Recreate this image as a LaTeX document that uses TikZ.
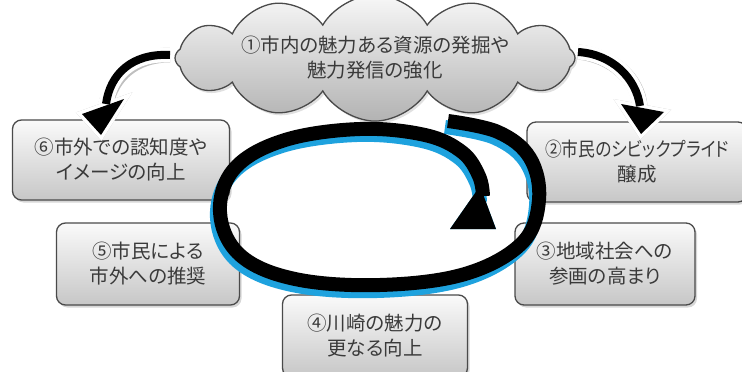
\documentclass[tikz,border=0pt]{standalone}
\usepackage{fontspec}
\newfontfamily\jp{Noto Sans CJK JP}[RawFeature={+palt}]
\newfontfamily\jpc{Noto Sans CJK JP}[RawFeature={+palt},FakeStretch=0.86]
\usetikzlibrary{shapes.symbols,shadows}
\definecolor{txt}{HTML}{3A3A3A}
\definecolor{edge}{HTML}{4A4A4A}
\definecolor{ringblue}{HTML}{1EA2DE}
\tikzset{
  lbl/.style={font=\jp\fontsize{19.5}{25}\selectfont, text=txt, align=center},
  stepbox/.style={lbl, draw=edge, line width=1.3pt, rounded corners=9pt,
    top color=white!96!gray, bottom color=black!22,
    drop shadow={shadow xshift=2pt, shadow yshift=-2.5pt, fill=black!35, opacity=.45}},
  cloudbox/.style={lbl, cloud, cloud puffs=12, cloud puff arc=120, cloud ignores aspect,
    draw=edge, line width=1.3pt, top color=white!94!gray, bottom color=black!30,
    drop shadow={shadow xshift=2pt, shadow yshift=-2.5pt, fill=black!30, opacity=.4}},
  ringline/.style={line width=14pt, line cap=butt, line join=round},
}
\begin{document}
\begin{tikzpicture}[x=1pt,y=-1pt]
\useasboundingbox (0,0) rectangle (742,372);

% cloud
\node[cloudbox, minimum width=400pt, minimum height=98pt] (c1) at (375,58)
  {①市内の魅力ある資源の発掘や\\魅力発信の強化};

% boxes
\node[stepbox, minimum width=217pt, minimum height=80pt] (b6) at (121,160)
  {⑥市外での認知度や\\イメージの向上};
\node[stepbox, minimum width=183pt, minimum height=82pt] (b5) at (148,264)
  {⑤市民による\\市外への推奨};
\node[stepbox, minimum width=220pt, minimum height=80pt] (b2) at (637,162)
  {{\jpc ②市民のシビックプライド}\\醸成};
\node[stepbox, minimum width=180pt, minimum height=82pt] (b3) at (605,264)
  {③地域社会への\\参画の高まり};
\node[stepbox, minimum width=185pt, minimum height=82pt] (b4) at (375,336)
  {④川崎の魅力の\\更なる向上};

% spiral coordinates
\def\spiral{plot[smooth, tension=0.62] coordinates {(448,121) (498,132) (530,158) (539,200) (522,243) (465,274) (380,285) (295,279) (240,255) (220,212) (235,168) (285,140) (360,129) (425,135) (462,152) (479,176) (483,196)}}
\coordinate (tipA) at (450,229);
\coordinate (tipB) at (496,229);
\coordinate (tipC) at (480,186);

% blue shadow
\begin{scope}[shift={(-3,6)}]
  \draw[ringline, ringblue] \spiral;
  \fill[ringblue] (tipA) -- (tipB) -- (tipC) -- cycle;
\end{scope}
% black spiral
\draw[ringline, black] \spiral;
\fill[black] (tipA) -- (tipB) -- (tipC) -- cycle;

% left arrow from cloud to box 6
\coordinate (la0) at (170,55);
\coordinate (la1) at (106,104);
\coordinate (lh1) at (82,114);
\coordinate (lh2) at (124,99);
\coordinate (lh3) at (101,135);
\begin{scope}[shift={(2,2)}]
  \draw[black!25, line width=15pt] (la0) .. controls (132,53) and (110,74) .. (la1);
  \draw[black!25, line width=7pt, line join=miter, fill=black!25] (lh1) -- (lh2) -- (lh3) -- cycle;
\end{scope}
\draw[white, line width=15pt] (la0) .. controls (132,53) and (110,74) .. (la1);
\draw[white, line width=7pt, line join=miter, fill=white] (lh1) -- (lh2) -- (lh3) -- cycle;
\draw[black, line width=8pt] (la0) .. controls (132,53) and (110,74) .. (la1);
\fill[black] (lh1) -- (lh2) -- (lh3) -- cycle;

% right arrow from cloud to box 2
\coordinate (ra0) at (578,52);
\coordinate (ra1) at (640,106);
\coordinate (rh1) at (621,104);
\coordinate (rh2) at (664,112);
\coordinate (rh3) at (641,134);
\begin{scope}[shift={(2,2)}]
  \draw[black!25, line width=15pt] (ra0) .. controls (612,54) and (636,78) .. (ra1);
  \draw[black!25, line width=7pt, line join=miter, fill=black!25] (rh1) -- (rh2) -- (rh3) -- cycle;
\end{scope}
\draw[white, line width=15pt] (ra0) .. controls (612,54) and (636,78) .. (ra1);
\draw[white, line width=7pt, line join=miter, fill=white] (rh1) -- (rh2) -- (rh3) -- cycle;
\draw[black, line width=8pt] (ra0) .. controls (612,54) and (636,78) .. (ra1);
\fill[black] (rh1) -- (rh2) -- (rh3) -- cycle;
\end{tikzpicture}
\end{document}
